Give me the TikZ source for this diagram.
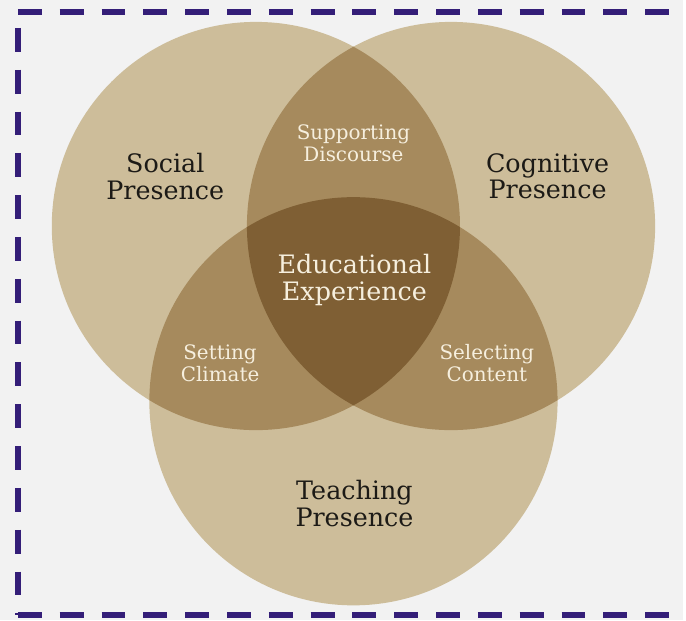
\documentclass[tikz,border=0pt]{standalone}
\usepackage{fontspec}
\setmainfont{DejaVu Serif}
\usepackage{tikz}

\definecolor{paper}{HTML}{F2F2F2}
\definecolor{frame}{HTML}{341E78}
\definecolor{sand}{HTML}{CDBD9A}
\definecolor{bronze}{HTML}{A68A5D}
\definecolor{umber}{HTML}{7F5F34}
\definecolor{cream}{HTML}{F6EFDE}
\definecolor{ink}{HTML}{1C1A16}

\tikzset{
  outer/.style={text=ink,align=center,font=\fontsize{25.5}{27}\selectfont},
  inner/.style={text=cream,align=center,font=\fontsize{20}{22}\selectfont},
  border/.style={draw=frame,line width=6pt,dash pattern=on 24pt off 18pt}
}

\begin{document}
\begin{tikzpicture}[x=1pt,y=-1pt]
  \fill[paper] (0,0) rectangle (686,623);

  % frame: top, left and bottom only
  \draw[border] (18,12) --(686,12);
  \draw[border] (18,28) --(18,618);
  \draw[border] (18,618) --(686,618);

  \coordinate (sp) at (257,227);
  \coordinate (cp) at (453,227);
  \coordinate (tp) at (355,403);

  \fill[sand] (sp) circle[radius=205pt];
  \fill[sand] (cp) circle[radius=205pt];
  \fill[sand] (tp) circle[radius=205pt];

  % two-way overlaps
  \begin{scope}
    \clip (sp) circle[radius=205pt];
    \fill[bronze] (cp) circle[radius=205pt];
    \fill[bronze] (tp) circle[radius=205pt];
  \end{scope}
  \begin{scope}
    \clip (cp) circle[radius=205pt];
    \fill[bronze] (tp) circle[radius=205pt];
  \end{scope}

  % three-way overlap
  \begin{scope}
    \clip (sp) circle[radius=205pt];
    \clip (cp) circle[radius=205pt];
    \fill[umber] (tp) circle[radius=205pt];
  \end{scope}

  \path (166,177) node[outer] (social) {Social\\Presence};
  \path (550,177) node[outer] (cognitive) {Cognitive\\Presence};
  \path (356,506) node[outer] (teaching) {Teaching\\Presence};

  \path (355,144) node[inner] (discourse) {Supporting\\Discourse};
  \path (221,365) node[inner] (climate) {Setting\\Climate};
  \path (489,365) node[inner] (content) {Selecting\\Content};
  \path (356,281) node[inner,font=\fontsize{25.5}{27}\selectfont] (experience) {Educational\\Experience};

\end{tikzpicture}
\end{document}
